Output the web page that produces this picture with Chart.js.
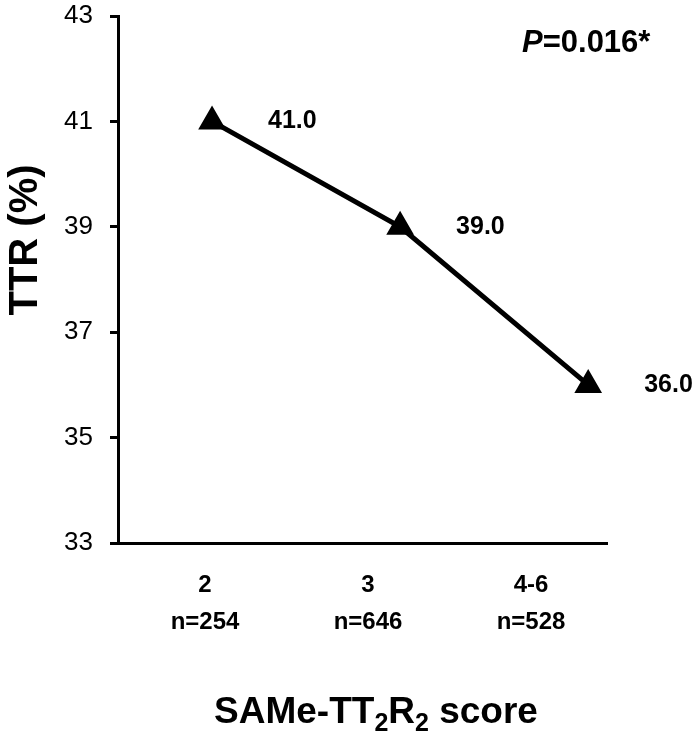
<!DOCTYPE html>
<html>
<head>
<meta charset="utf-8">
<script src="https://cdn.jsdelivr.net/npm/chart.js@4/dist/chart.umd.min.js"></script>
<style>
  body { margin: 0; background: #fff; }
  canvas { display: block; }
</style>
</head>
<body>
<canvas id="ttrChart" width="700" height="733"></canvas>
<script>
// TTR by SAMe-TT2R2 score
const categories = ['2', '3', '4-6'];
const sampleSizes = ['n=254', 'n=646', 'n=528'];
const ttrValues = [41.0, 39.0, 36.0];
const yTicks = [33, 35, 37, 39, 41, 43];
const pValue = '=0.016*';

const FONT = '"Liberation Sans", Arial, sans-serif';

// labels + titles drawn on top of the chart
const annotations = {
    id: 'annotations',
    afterDatasetsDraw(chart) {
        const ctx = chart.ctx;
        const meta = chart.getDatasetMeta(0);
        ctx.save();
        ctx.fillStyle = '#000';
        ctx.font = 'bold 25px ' + FONT;
        ctx.textAlign = 'left';
        ctx.textBaseline = 'middle';
        meta.data.forEach(function(pt, i) {
            ctx.fillText(ttrValues[i].toFixed(1), pt.x + 56, pt.y);
        });
        ctx.restore();
    },
    afterDraw(chart) {
        const ctx = chart.ctx;
        ctx.save();
        ctx.fillStyle = '#000';

        // y title
        ctx.save();
        ctx.translate(37, 240);
        ctx.rotate(-Math.PI / 2);
        ctx.font = 'bold 40px ' + FONT;
        ctx.textAlign = 'center';
        ctx.textBaseline = 'alphabetic';
        ctx.fillText('TTR (%)', 0, 0);
        ctx.restore();

        // x title with subscripts
        const parts = [
            { t: 'SAMe-TT', sub: false },
            { t: '2', sub: true },
            { t: 'R', sub: false },
            { t: '2', sub: true },
            { t: ' score', sub: false }
        ];
        const bigFont = 'bold 37px ' + FONT;
        const subFont = 'bold 25px ' + FONT;
        let total = 0;
        parts.forEach(function(p) {
            ctx.font = p.sub ? subFont : bigFont;
            p.w = ctx.measureText(p.t).width;
            total += p.w;
        });
        let x = 376 - total / 2;
        ctx.textAlign = 'left';
        ctx.textBaseline = 'alphabetic';
        parts.forEach(function(p) {
            ctx.font = p.sub ? subFont : bigFont;
            ctx.fillText(p.t, x, p.sub ? 731 : 723);
            x += p.w;
        });

        // P value
        ctx.font = 'italic bold 31px ' + FONT;
        ctx.fillText('P', 522, 52);
        const pw = ctx.measureText('P').width;
        ctx.font = 'bold 31px ' + FONT;
        ctx.fillText(pValue, 522 + pw, 52);
        ctx.restore();
    }
};

new Chart(document.getElementById('ttrChart'), {
    type: 'line',
    data: {
        datasets: [{
            data: ttrValues.map((v, i) => ({ x: i + 0.5, y: v })),
            borderColor: '#000',
            borderWidth: 5,
            backgroundColor: '#000',
            pointStyle: 'triangle',
            pointRadius: 11,
            pointBackgroundColor: '#000',
            pointBorderColor: '#000',
            tension: 0,
            xAxisID: 'x',
            yAxisID: 'y'
        }]
    },
    options: {
        responsive: false,
        animation: false,
        layout: { padding: { top: 13, right: 93, bottom: 0, left: 0 } },
        plugins: {
            legend: { display: false },
            tooltip: { enabled: false }
        },
        scales: {
            x: {
                type: 'linear',
                position: 'bottom',
                min: 0,
                max: 2.6,
                ticks: { display: false },
                grid: { display: false },
                border: { display: true, color: '#000', width: 3 },
                afterFit(scale) { scale.height = 0; }
            },
            x2: {
                type: 'linear',
                position: 'bottom',
                min: -0.534,
                max: 2.466,
                afterBuildTicks(axis) {
                    axis.ticks = categories.map((c, i) => ({ value: i }));
                },
                ticks: {
                    color: '#000',
                    font: { family: FONT, size: 24, weight: 'bold', lineHeight: 1.55 },
                    padding: 24,
                    maxRotation: 0,
                    autoSkip: false,
                    callback: (v) => [categories[v], sampleSizes[v]]
                },
                grid: { display: false, drawTicks: false },
                border: { display: false },
                afterFit(scale) {
                    scale.height = 190;
                    scale.paddingLeft = 0;
                    scale.paddingRight = 0;
                }
            },
            y: {
                min: 33,
                max: 43,
                afterBuildTicks(axis) {
                    axis.ticks = yTicks.map(v => ({ value: v }));
                },
                ticks: {
                    color: '#000',
                    font: { family: FONT, size: 26, lineHeight: 1 },
                    padding: 17
                },
                grid: {
                    drawOnChartArea: false,
                    drawTicks: true,
                    tickLength: 8,
                    color: '#000',
                    lineWidth: 3
                },
                border: { display: true, color: '#000', width: 3 },
                afterFit(scale) {
                    scale.width = 118;
                    scale.paddingTop = 0;
                    scale.paddingBottom = 0;
                }
            }
        }
    },
    plugins: [annotations]
});
</script>
</body>
</html>
